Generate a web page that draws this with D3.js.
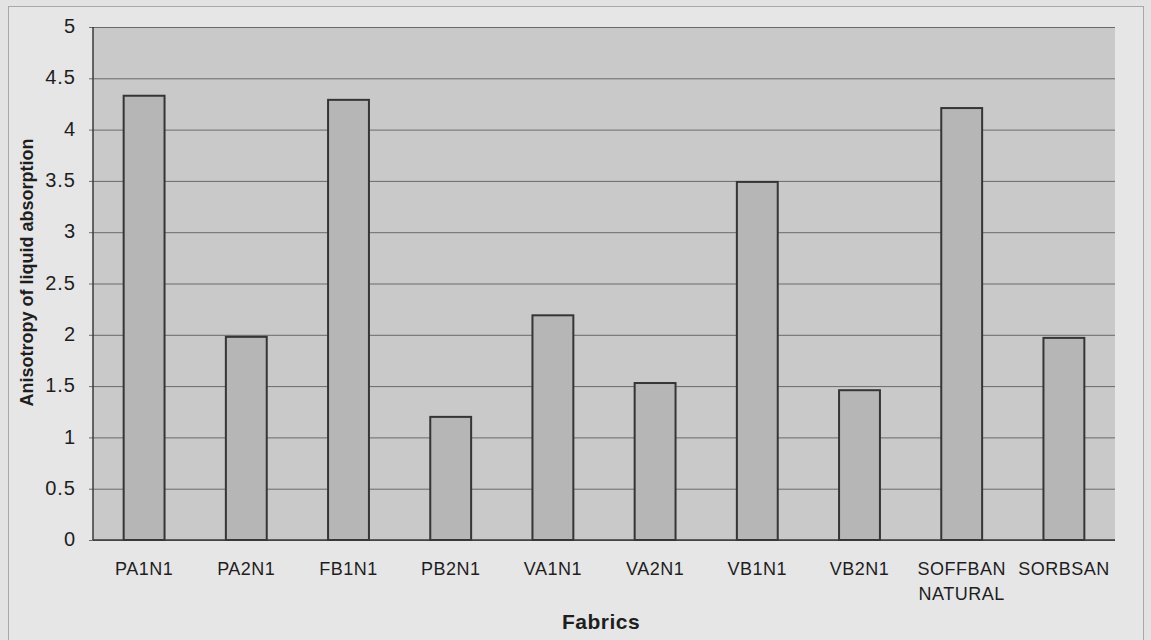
<!DOCTYPE html>
<html>
<head>
<meta charset="utf-8">
<script src="https://cdn.jsdelivr.net/npm/d3@7"></script>
<style>
  html, body { margin: 0; padding: 0; background: #e3e3e3; }
  svg { display: block; }
  text { font-family: "Liberation Sans", Arial, sans-serif; fill: #1e1e1e; }
</style>
</head>
<body>
<svg id="chart" width="1151" height="640"></svg>
<script>
// Fabric samples and their anisotropy of liquid absorption
const fabrics = ["PA1N1", "PA2N1", "FB1N1", "PB2N1", "VA1N1", "VA2N1", "VB1N1", "VB2N1", "SOFFBAN NATURAL", "SORBSAN"];
const anisotropy = [4.33, 1.98, 4.29, 1.20, 2.19, 1.53, 3.49, 1.46, 4.21, 1.97];
const yTicks = [0, 0.5, 1, 1.5, 2, 2.5, 3, 3.5, 4, 4.5, 5];
const yTitle = "Anisotropy of liquid absorption";
const xTitle = "Fabrics";

const svg = d3.select("#chart");
const plot = { left: 93, right: 1115, top: 27, bottom: 540 };

// outer chart frame
svg.append("rect")
  .attr("x", 8.5).attr("y", 6.5)
  .attr("width", 1135).attr("height", 640)
  .attr("fill", "#e6e6e6")
  .attr("stroke", "#a8a8a8").attr("stroke-width", 1);

const x = d3.scaleBand()
  .domain(fabrics)
  .range([plot.left, plot.right])
  .paddingInner(0.6)
  .paddingOuter(0.3);

const y = d3.scaleLinear()
  .domain([0, 5])
  .range([plot.bottom, plot.top]);

// plot area background
svg.append("rect")
  .attr("x", plot.left).attr("y", plot.top)
  .attr("width", plot.right - plot.left)
  .attr("height", plot.bottom - plot.top)
  .attr("fill", "#c9c9c9");

// horizontal gridlines with y axis labels
const yAxis = d3.axisLeft(y)
  .tickValues(yTicks)
  .tickSize(-(plot.right - plot.left))
  .tickPadding(17)
  .tickFormat(d => String(d));

const gy = svg.append("g")
  .attr("transform", `translate(${plot.left},0)`)
  .call(yAxis);
gy.select(".domain").remove();
gy.selectAll(".tick line")
  .attr("x1", -4)
  .attr("stroke", "#6a6a6a")
  .attr("stroke-width", 1);
gy.selectAll(".tick text")
  .attr("font-size", 20)
  .attr("dy", "0.28em")
  .attr("letter-spacing", 1)
  .attr("fill", "#1e1e1e")
  .style("font-family", "'Liberation Sans', Arial, sans-serif");

// bars
svg.append("g")
  .selectAll("rect")
  .data(fabrics)
  .join("rect")
  .attr("x", d => x(d))
  .attr("y", (d, i) => y(anisotropy[i]))
  .attr("width", x.bandwidth())
  .attr("height", (d, i) => y(0) - y(anisotropy[i]))
  .attr("fill", "#b6b6b6")
  .attr("stroke", "#353535")
  .attr("stroke-width", 2);

// axis lines
svg.append("line")
  .attr("x1", plot.left).attr("x2", plot.left)
  .attr("y1", plot.top).attr("y2", plot.bottom)
  .attr("stroke", "#3a3a3a").attr("stroke-width", 1.5);
svg.append("line")
  .attr("x1", plot.left).attr("x2", plot.right)
  .attr("y1", plot.bottom).attr("y2", plot.bottom)
  .attr("stroke", "#3a3a3a").attr("stroke-width", 1.5);

// category labels (long names wrap onto two lines)
const xl = svg.append("g")
  .selectAll("text")
  .data(fabrics)
  .join("text")
  .attr("x", d => x(d) + x.bandwidth() / 2)
  .attr("y", 575)
  .attr("text-anchor", "middle")
  .attr("font-size", 18)
  .attr("letter-spacing", 0.5);
xl.each(function(d) {
  const words = d.split(" ");
  const t = d3.select(this);
  words.forEach((w, k) => {
    t.append("tspan")
      .attr("x", x(d) + x.bandwidth() / 2)
      .attr("dy", k === 0 ? 0 : 25)
      .text(w);
  });
});

// axis titles
svg.append("text")
  .attr("transform", `translate(33,${(138 + 407) / 2}) rotate(-90)`)
  .attr("text-anchor", "middle")
  .attr("font-size", 18)
  .attr("font-weight", "bold")
  .text(yTitle);

svg.append("text")
  .attr("x", 601)
  .attr("y", 629)
  .attr("text-anchor", "middle")
  .attr("font-size", 21)
  .attr("font-weight", "bold")
  .attr("letter-spacing", 0.5)
  .text(xTitle);
</script>
</body>
</html>
